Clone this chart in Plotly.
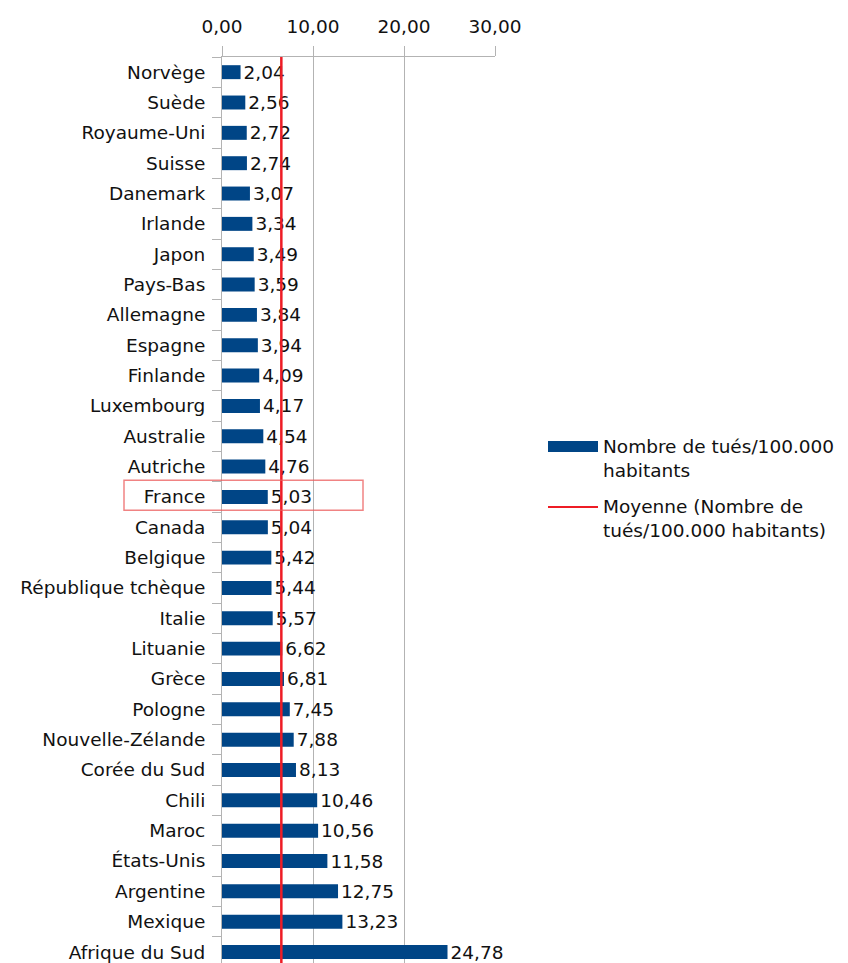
import numpy as np
import plotly.graph_objects as go

# Road deaths per 100,000 inhabitants, by country
countries = [
    "Norvège", "Suède", "Royaume-Uni", "Suisse", "Danemark", "Irlande", "Japon",
    "Pays-Bas", "Allemagne", "Espagne", "Finlande", "Luxembourg", "Australie",
    "Autriche", "France", "Canada", "Belgique", "République tchèque", "Italie",
    "Lituanie", "Grèce", "Pologne", "Nouvelle-Zélande", "Corée du Sud", "Chili",
    "Maroc", "États-Unis", "Argentine", "Mexique", "Afrique du Sud",
]
deaths = [
    2.04, 2.56, 2.72, 2.74, 3.07, 3.34, 3.49, 3.59, 3.84, 3.94, 4.09, 4.17,
    4.54, 4.76, 5.03, 5.04, 5.42, 5.44, 5.57, 6.62, 6.81, 7.45, 7.88, 8.13,
    10.46, 10.56, 11.58, 12.75, 13.23, 24.78,
]
x_ticks = [0, 10, 20, 30]

series_name = "Nombre de tués/100.000 habitants"
mean_name = "Moyenne (Nombre de tués/100.000 habitants)"
highlight = "France"

W, H = 848, 963
L, R, T = 222, 495, 57
ROW = 30.34
FONT = "DejaVu Sans, Liberation Sans, Arial, sans-serif"
FS = 18.5
BLUE = "#004586"
RED = "#ee1c25"
GRID = "#b3b3b3"
TXT = "#111111"

idx = list(range(len(countries)))
mean_val = float(np.mean(deaths))

# Visible row span: plot runs from T down to the bottom edge of the page
y_bottom = -0.5 + (H - T) / ROW


def px_x(p):
    return (p - L) / (R - L)


def px_y(p):
    return 1 - (p - T) / (H - T)


fig = go.Figure()

fig.add_trace(go.Bar(
    x=deaths, y=idx, orientation="h", name=series_name,
    marker=dict(color=BLUE, line=dict(width=0)), width=0.46,
    text=deaths, texttemplate="%{x:.2f}", textposition="outside",
    textfont=dict(family=FONT, size=FS, color=TXT),
    constraintext="none", cliponaxis=False, showlegend=False,
))

fig.add_trace(go.Scatter(
    x=[mean_val, mean_val], y=[-0.5, len(countries) + 1], mode="lines",
    name=mean_name, line=dict(color=RED, width=2.5), showlegend=False,
))

# Box around the highlighted country
hi = countries.index(highlight)
fig.add_shape(
    type="rect", xref="paper", yref="y",
    x0=px_x(124), x1=px_x(363), y0=hi - 0.55, y1=hi + 0.44,
    line=dict(color="rgba(235,90,90,0.75)", width=1.5),
    fillcolor="rgba(0,0,0,0)",
)

# Legend drawn at the right of the plot
fig.add_shape(
    type="rect", xref="paper", yref="paper",
    x0=px_x(548), x1=px_x(598), y0=px_y(452), y1=px_y(441),
    fillcolor=BLUE, line=dict(width=0),
)
fig.add_shape(
    type="line", xref="paper", yref="paper",
    x0=px_x(548), x1=px_x(598), y0=px_y(507), y1=px_y(507),
    line=dict(color=RED, width=2),
)
fig.add_annotation(
    xref="paper", yref="paper", x=px_x(601), y=px_y(434),
    xanchor="left", yanchor="top", align="left", showarrow=False,
    text="Nombre de tués/100.000<br>habitants",
    font=dict(family=FONT, size=FS, color=TXT),
)
fig.add_annotation(
    xref="paper", yref="paper", x=px_x(601), y=px_y(494),
    xanchor="left", yanchor="top", align="left", showarrow=False,
    text="Moyenne (Nombre de<br>tués/100.000 habitants)",
    font=dict(family=FONT, size=FS, color=TXT),
)

fig.update_layout(
    width=W, height=H,
    margin=dict(l=L, r=W - R, t=T, b=0, pad=0),
    paper_bgcolor="white", plot_bgcolor="white",
    separators=", ",
    font=dict(family=FONT, size=FS, color=TXT),
    showlegend=False,
    bargap=0.5,
)

fig.update_xaxes(
    side="top", range=[0, 30], tickvals=x_ticks, tickformat=".2f",
    ticks="outside", ticklen=10, tickcolor=GRID, tickwidth=1,
    ticklabelstandoff=6,
    showgrid=True, gridcolor=GRID, gridwidth=1,
    showline=True, linecolor=GRID, linewidth=1,
    zeroline=False, fixedrange=True,
    tickfont=dict(family=FONT, size=FS, color=TXT),
)

fig.update_yaxes(
    range=[y_bottom, -0.5], tickmode="array", tickvals=idx, ticktext=countries,
    ticks="outside", ticklen=12, tickcolor="rgba(0,0,0,0)",
    showgrid=False, zeroline=False,
    showline=True, linecolor=GRID, linewidth=1,
    minor=dict(tickmode="array", tickvals=[i - 0.5 for i in idx],
               ticks="outside", ticklen=9, tickcolor=GRID, tickwidth=1,
               showgrid=False),
    tickfont=dict(family=FONT, size=FS, color=TXT),
)

fig.write_html("out.html")
